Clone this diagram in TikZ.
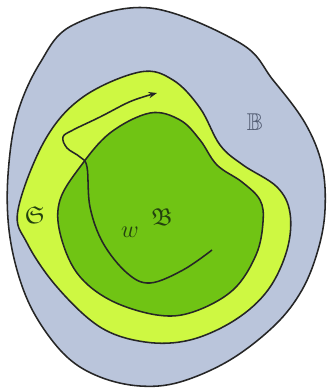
\documentclass[tikz,border=0pt]{standalone}
\usepackage{amsmath}
\usepackage{amssymb}
\usetikzlibrary{arrows.meta}
\definecolor{regGray}{RGB}{186,197,219}
\definecolor{regLime}{RGB}{206,248,66}
\definecolor{regGreen}{RGB}{112,196,20}
\definecolor{lblGreen}{RGB}{35,65,15}
\definecolor{lblGray}{RGB}{80,90,112}
\tikzset{
  blob/.style={draw=black!85, line width=1.1pt},
  pathArr/.style={-{Stealth[length=6pt,width=4.5pt]}, draw=black!85, line width=1.1pt},
  glabel/.style={font=\LARGE, text=lblGreen},
  blabel/.style={font=\LARGE, text=lblGray},
}

\begin{document}
\begin{tikzpicture}[x=0.25mm, y=-0.25mm]

\fill[white] (0,0) rectangle (328,390);

%% ── OUTER REGION ────────────────────────────────────────
\draw[blob, fill=regGray] plot[smooth cycle, tension=0.6] coordinates {
  (73,25) (150,8) (240,43) (273,80) (305,123) (322,165) (325,210)
  (318,250) (302,290) (275,325) (230,360) (180,382) (140,386)
  (100,377) (67,357) (38,320) (20,280) (9,230) (8,175) (17,115)
  (40,63)};

%% ── LIME BAND ───────────────────────────────────────────
\draw[blob, fill=regLime] plot[smooth cycle, tension=0.6] coordinates {
  (140,72) (173,80) (200,108) (220,145) (243,165) (277,187)
  (290,213) (287,250) (268,290) (235,320) (190,340) (145,342)
  (100,327) (57,287) (27,243) (18,210) (45,140) (83,97)};

%% ── INNER REGION ────────────────────────────────────────
\draw[blob, fill=regGreen] plot[smooth cycle, tension=0.6] coordinates {
  (150,113) (180,120) (200,140) (217,165) (242,182) (260,200)
  (263,222) (256,255) (233,290) (193,312) (157,315) (110,300)
  (77,273) (60,233) (60,200) (80,167) (110,133)};

%% ── PATH w ──────────────────────────────────────────────
\draw[pathArr] plot[smooth, tension=0.6] coordinates {
  (212,250) (183,270) (150,283) (127,273) (103,243) (90,207)
  (87,167) (80,157) (67,148) (63,137) (73,130) (100,117)
  (127,103) (143,97) (157,93)};

%% ── LABELS ──────────────────────────────────────────────
\node[glabel] (lS) at (35,215) {$\mathfrak{S}$};
\node[glabel] (lB) at (162,217) {$\mathfrak{B}$};
\node[glabel] (lw) at (130,232) {$w$};
\node[blabel] (lBB) at (255,122) {$\mathbb{B}$};

\end{tikzpicture}
\end{document}
